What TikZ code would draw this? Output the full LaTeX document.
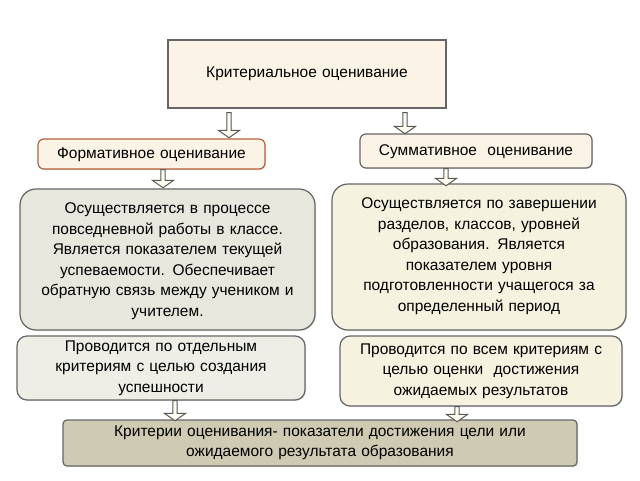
\documentclass[tikz,border=0pt]{standalone}
\usepackage{fontspec}
\setmainfont{Liberation Sans}
\usetikzlibrary{shapes.arrows,shadows}
\begin{document}
\begin{tikzpicture}[x=1pt,y=-1pt,
  bx/.style={draw=gray!80!black,line width=1.2pt,rounded corners=6pt,drop shadow={opacity=0.25,shadow xshift=1pt,shadow yshift=-1pt}},
  tx/.style={font=\fontsize{15.5}{20.5}\selectfont,align=center,text width=#1},
  arr/.style={single arrow,shape border rotate=270,draw=gray!70!black,line width=1pt,fill=yellow!6,minimum width=21pt,single arrow head extend=2pt,single arrow tip angle=110,inner sep=0pt}]
\useasboundingbox (0,0) rectangle (640,480);
\fill[white] (0,0) rectangle (640,480);
\definecolor{cream}{HTML}{FBF4E6}
\definecolor{lg}{HTML}{E7E7DD}
\definecolor{ly}{HTML}{F5F2E0}
\definecolor{kh}{HTML}{CFCBB3}
\definecolor{br}{HTML}{B8613A}

\draw[bx,fill=cream,rounded corners=0pt] (168,40) rectangle (446,108);
\node[tx=275pt] (top) at (307,74) {Критериальное оценивание};

\draw[bx,fill=cream,draw=br] (38,139) rectangle (265,169);
\node[tx=225pt] (form) at (151.5,155) {Формативное оценивание};

\draw[bx,fill=cream] (360,134) rectangle (592,168);
\node[tx=230pt] (summ) at (476,152) {Суммативное\ \ оценивание};

\draw[bx,fill=lg,rounded corners=16pt] (20,189) rectangle (315,330);
\node[tx=292pt] (l1) at (167.5,261) {Осуществляется в процессе\\повседневной работы в классе.\\Является показателем текущей\\успеваемости. Обеспечивает\\обратную связь между учеником и\\учителем.};

\draw[bx,fill=ly,rounded corners=16pt] (332,184) rectangle (626,330);
\node[tx=292pt] (r1) at (479,256) {Осуществляется по завершении\\разделов, классов, уровней\\образования. Является\\показателем уровня\\подготовленности учащегося за\\определенный период};

\draw[bx,fill=lg!70!white,rounded corners=10pt] (17,336) rectangle (305,400);
\node[tx=285pt] (l2) at (161,368) {Проводится по отдельным\\критериям с целью создания\\успешности};

\draw[bx,fill=ly,rounded corners=10pt] (340,336) rectangle (622,406);
\node[tx=280pt] (r2) at (481,371) {Проводится по всем критериям с\\целью оценки\ \ достижения\\ожидаемых результатов};

\draw[bx,fill=kh,rounded corners=4pt] (63,420) rectangle (577,466);
\node[tx=510pt] (bot) at (320,443) {Критерии оценивания- показатели достижения цели или\\ожидаемого результата образования};

\node[arr,minimum height=25pt] (a1) at (229,124.5) {};
\node[arr,minimum height=21pt] (a2) at (405,122.5) {};
\node[arr,minimum height=18pt] (a3) at (163,178) {};
\node[arr,minimum height=17pt] (a4) at (446,176.5) {};
\node[arr,minimum height=20pt] (a5) at (175,410) {};
\node[arr,minimum height=15pt] (a6) at (457,413.5) {};
\end{tikzpicture}
\end{document}
